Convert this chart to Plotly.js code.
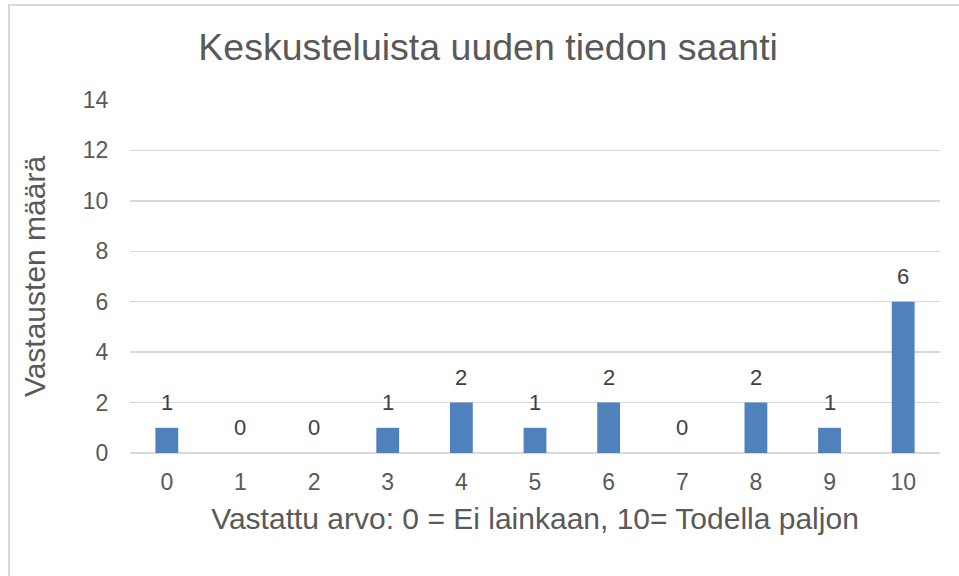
<!DOCTYPE html>
<html><head><meta charset="utf-8">
<script src="https://cdn.plot.ly/plotly-3.0.1.min.js"></script>
<style>
html,body{margin:0;padding:0;background:#fff;overflow:hidden;}
#frame{position:absolute;left:8px;top:4px;width:960px;height:600px;border:2px solid #d9d9d9;box-sizing:border-box;}
#chart{position:absolute;left:0;top:0;width:959px;height:576px;}
</style></head>
<body>
<div id="frame"></div>
<div id="chart"></div>
<script>
const categories = ["0","1","2","3","4","5","6","7","8","9","10"];
const values = [1,0,0,1,2,1,2,0,2,1,6];
const yTicks = [0,2,4,6,8,10,12,14];
const titleText = "Keskusteluista uuden tiedon saanti";
const xTitle = "Vastattu arvo: 0 = Ei lainkaan, 10= Todella paljon";
const yTitle = "Vastausten määrä";

const font = "Liberation Sans, Arial, sans-serif";
const labels = categories.map((c, i) => ({
  x: c, y: values[i], xref: "x", yref: "y",
  text: String(values[i]), showarrow: false,
  yanchor: "bottom", yshift: 11,
  font: {family: font, size: 22, color: "#404040"}
}));
Plotly.newPlot("chart", [{
  type: "bar",
  x: categories,
  y: values,
  marker: {color: "#4f81bd"},
  hoverinfo: "none"
}], {
  width: 959, height: 576,
  paper_bgcolor: "rgba(0,0,0,0)",
  plot_bgcolor: "rgba(0,0,0,0)",
  margin: {l: 130, r: 19, t: 100, b: 123},
  bargap: 0.69,
  showlegend: false,
  annotations: labels,
  title: {text: titleText, font: {family: font, size: 37.5, color: "#595959"}, x: 0.509, xanchor: "center", y: 0.918, yanchor: "middle"},
  xaxis: {
    type: "category",
    tickfont: {family: font, size: 23, color: "#595959"},
    ticks: "outside", ticklen: 8, tickcolor: "rgba(0,0,0,0)",
    showgrid: false, showline: false, zeroline: false,
    title: {text: xTitle, font: {family: font, size: 30, color: "#595959"}, standoff: 14}
  },
  yaxis: {
    range: [0, 14],
    tickvals: yTicks,
    tickfont: {family: font, size: 23, color: "#595959"},
    ticks: "outside", ticklen: 16, tickcolor: "rgba(0,0,0,0)",
    gridcolor: "#d9d9d9", gridwidth: 1.5,
    zeroline: true, zerolinecolor: "#d9d9d9", zerolinewidth: 1.5,
    showline: false,
    title: {text: yTitle, font: {family: font, size: 30, color: "#595959"}, standoff: 28}
  }
}, {displayModeBar: false, staticPlot: true});
</script>
</body></html>
